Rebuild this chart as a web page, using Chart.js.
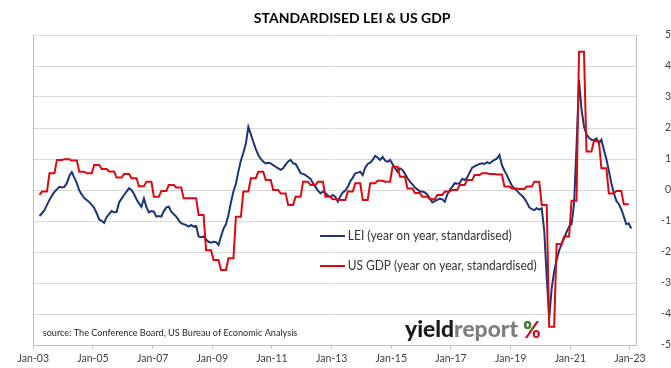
<!DOCTYPE html>
<html>
<head>
<meta charset="utf-8">
<script src="https://cdn.jsdelivr.net/npm/chart.js@4"></script>
<style>
  html, body { margin: 0; padding: 0; background: #fff; }
  canvas { display: block; }
</style>
</head>
<body>
<canvas id="leiChart" width="671" height="368"></canvas>
<script>
// month index 0 = Jan-03
const tickMonths = [0, 24, 48, 72, 96, 120, 144, 168, 192, 216, 240];
const tickLabels = ['Jan-03', 'Jan-05', 'Jan-07', 'Jan-09', 'Jan-11', 'Jan-13', 'Jan-15', 'Jan-17', 'Jan-19', 'Jan-21', 'Jan-23'];
const yTicks = [5, 4, 3, 2, 1, 0, -1, -2, -3, -4, -5];

// LEI, year on year, standardised: monthly, Mar-03 .. Jan-23
const leiStart = 2;
const lei = [
  -0.84, -0.75, -0.65, -0.48, -0.32, -0.18, -0.06, 0.02, 0.10, 0.08,                 // 2003 (Mar-Dec)
  0.10, 0.22, 0.45, 0.58, 0.40, 0.22, -0.02, -0.15, -0.26, -0.32, -0.39, -0.48,      // 2004
  -0.58, -0.75, -0.95, -1.00, -1.06, -0.87, -0.78, -0.68, -0.72, -0.71, -0.40, -0.28, // 2005
  -0.16, -0.05, 0.06, 0.00, -0.13, -0.30, -0.43, -0.54, -0.27, -0.55, -0.72, -0.68,  // 2006
  -0.70, -0.86, -0.84, -0.86, -0.68, -0.56, -0.54, -0.70, -0.78, -0.86, -0.98, -1.08, // 2007
  -1.10, -1.13, -1.18, -1.13, -1.18, -1.16, -1.50, -1.52, -1.50, -1.60, -1.67, -1.70, // 2008
  -1.67, -1.68, -1.77, -1.50, -1.25, -1.10, -0.80, -0.40, -0.05, 0.20, 0.60, 0.95,   // 2009
  1.20, 1.50, 2.04, 1.80, 1.55, 1.32, 1.13, 1.00, 0.91, 0.86, 0.88, 0.86,            // 2010
  0.80, 0.75, 0.70, 0.65, 0.70, 0.82, 0.92, 0.97, 0.86, 0.84, 0.70, 0.54,            // 2011
  0.52, 0.48, 0.42, 0.36, 0.22, 0.10, -0.02, -0.11, -0.05, -0.10, -0.18, -0.22,      // 2012
  -0.16, -0.22, -0.38, -0.20, -0.08, -0.02, 0.10, 0.28, 0.40, 0.54, 0.56, 0.59,      // 2013
  0.48, 0.72, 0.84, 0.88, 0.97, 1.10, 1.05, 0.97, 1.07, 0.95, 0.91, 0.97,            // 2014
  0.84, 0.70, 0.59, 0.70, 0.65, 0.52, 0.38, 0.27, 0.18, 0.08, 0.02, -0.05,           // 2015
  -0.05, -0.08, -0.15, -0.27, -0.40, -0.36, -0.32, -0.28, -0.30, -0.38, -0.15, 0.00, // 2016
  0.10, 0.22, 0.20, 0.22, 0.36, 0.32, 0.40, 0.56, 0.72, 0.76, 0.80, 0.84,            // 2017
  0.86, 0.84, 0.90, 0.86, 0.92, 0.97, 1.02, 1.13, 0.80, 0.62, 0.48, 0.30,            // 2018
  0.14, 0.05, -0.02, -0.11, -0.18, -0.27, -0.40, -0.56, -0.62, -0.65, -0.59, -0.63,  // 2019
  -0.59, -1.30, -2.80, -4.14, -3.17, -2.63, -2.25, -1.95, -1.75, -1.55, -1.35, -1.18, // 2020
  -1.10, -0.45, 1.40, 3.55, 2.60, 2.05, 1.80, 1.68, 1.62, 1.60, 1.66, 1.50,          // 2021
  1.62, 1.30, 1.00, 0.62, 0.22, -0.10, -0.35, -0.45, -0.62, -0.85, -1.10, -1.08,     // 2022
  -1.24                                                                              // 2023 (Jan)
];

// US GDP, year on year, standardised: quarterly, Q1-03 .. Q4-22
const gdpQuarterly = [
  -0.16, -0.05, 0.54, 0.97,   // 2003
  0.99, 0.95, 0.59, 0.54,     // 2004
  0.81, 0.68, 0.60, 0.40,     // 2005
  0.52, 0.38, 0.12, 0.27,     // 2006
  -0.22, -0.03, 0.16, 0.08,   // 2007
  -0.27, -0.27, -0.81, -1.94, // 2008
  -2.26, -2.58, -2.20, -0.86, // 2009
  -0.05, 0.38, 0.59, 0.32,    // 2010
  0.00, -0.11, -0.48, -0.22,  // 2011
  0.27, 0.16, 0.27, -0.22,    // 2012
  -0.30, -0.32, -0.05, 0.22,  // 2013
  -0.32, 0.22, 0.30, 0.27,    // 2014
  0.75, 0.43, 0.05, -0.10,    // 2015
  -0.22, -0.30, -0.16, -0.05, // 2016
  0.00, 0.16, 0.32, 0.48,     // 2017
  0.54, 0.52, 0.50, 0.11,     // 2018
  0.05, 0.03, 0.11, 0.27,     // 2019
  -0.48, -4.41, -1.74, -1.50, // 2020
  -0.35, 4.46, 1.24, 1.58,    // 2021
  0.70, -0.11, -0.03, -0.46   // 2022
];
const gdpStart = 2; // series shown from Mar-03

const leiLabel = 'LEI (year on year, standardised)';
const gdpLabel = 'US GDP (year on year, standardised)';
const leiColor = '#1c3578';
const gdpColor = '#e0080f';
const textColor = '#404040';

// each monthly point sits in the middle of its month
const leiPoints = lei.map((v, i) => ({ x: leiStart + i + 0.5, y: v }));
const gdpMonthly = gdpQuarterly.flatMap(v => [v, v, v]);
const gdpPoints = gdpMonthly.slice(gdpStart).map((v, i) => ({ x: gdpStart + i + 0.5, y: v }));

function fitText(ctx, text, x, y, width, font, color) {
  ctx.save();
  ctx.font = font;
  const w = ctx.measureText(text).width;
  ctx.translate(x, y);
  ctx.scale(width / w, 1);
  ctx.fillStyle = color;
  ctx.textAlign = 'left';
  ctx.textBaseline = 'middle';
  ctx.fillText(text, 0, 0);
  ctx.restore();
}

// legend inside the plot, source note and logo
const extras = {
  id: 'extras',
  afterDraw(chart) {
    const ctx = chart.ctx;
    const rows = [[leiLabel, leiColor, 235.5], [gdpLabel, gdpColor, 265.5]];
    rows.forEach(([label, color, y], i) => {
      ctx.save();
      ctx.strokeStyle = color;
      ctx.lineWidth = 2;
      ctx.beginPath();
      ctx.moveTo(320, y + 0.5);
      ctx.lineTo(345, y + 0.5);
      ctx.stroke();
      ctx.restore();
      fitText(ctx, label, 347.7, y, i === 0 ? 164 : 189, '12.5px Lato', '#333333');
    });

    fitText(ctx, 'source: The Conference Board, US Bureau of Economic Analysis',
      42.7, 333.3, 254.6, '8.6px Lato', '#262626');

    // yieldreport %
    ctx.save();
    ctx.font = '900 23px Lato';
    ctx.textBaseline = 'alphabetic';
    const w1 = ctx.measureText('yield').width;
    const w2 = ctx.measureText('report').width;
    const sx = 113 / (w1 + w2);
    ctx.translate(405, 337);
    ctx.scale(sx, 1);
    ctx.fillStyle = '#1a1a1a';
    ctx.fillText('yield', 0, 0);
    ctx.fillStyle = '#7f7f7f';
    ctx.fillText('report', w1, 0);
    ctx.restore();

    ctx.save();
    ctx.font = '900 22px Lato';
    const wp = ctx.measureText('%').width;
    ctx.translate(523.3, 338);
    ctx.scale(17.4 / wp, 1);
    ctx.fillStyle = '#d0101a';
    ctx.fillText('%', 0, 0);
    ctx.beginPath();
    ctx.rect(0, -20, wp * 0.55, 12.5);
    ctx.clip();
    ctx.fillStyle = '#2e8b3a';
    ctx.fillText('%', 0, 0);
    ctx.restore();
  }
};

const ctx = document.getElementById('leiChart').getContext('2d');
const chart = new Chart(ctx, {
  type: 'line',
  data: {
    datasets: [{
      label: leiLabel,
      data: leiPoints,
      borderColor: leiColor,
      borderWidth: 2,
      pointRadius: 0,
      tension: 0,
      order: 1
    }, {
      label: gdpLabel,
      data: gdpPoints,
      borderColor: gdpColor,
      borderWidth: 2,
      pointRadius: 0,
      tension: 0,
      order: 0
    }]
  },
  options: {
    responsive: false,
    animation: false,
    devicePixelRatio: 1,
    layout: { padding: { left: 33.3, right: 0, top: 0, bottom: 0 } },
    plugins: {
      legend: { display: false },
      tooltip: { enabled: false },
      title: {
        display: true,
        text: 'STANDARDISED LEI & US GDP',
        color: '#000000',
        font: { family: 'Lato', size: 14, weight: 'bold' },
        padding: { top: 10, bottom: 8.2 }
      }
    },
    scales: {
      x: {
        type: 'linear',
        min: 0,
        max: 242.7,
        afterBuildTicks: s => { s.ticks = tickMonths.map(v => ({ value: v })); },
        afterFit: s => { s.height = 23; },
        ticks: {
          autoSkip: false,
          maxRotation: 0,
          padding: 3,
          color: textColor,
          font: { family: 'Lato', size: 10.5 },
          callback: v => tickLabels[tickMonths.indexOf(v)]
        },
        grid: { drawOnChartArea: false, drawTicks: true, tickLength: 4, color: '#bfbfbf' },
        border: { display: true, color: '#bfbfbf' }
      },
      yl: {
        position: 'left',
        min: -5,
        max: 5,
        afterFit: s => { s.width = 0; },
        ticks: { display: false },
        grid: { drawOnChartArea: false, drawTicks: false },
        border: { display: true, color: '#bfbfbf' }
      },
      y: {
        position: 'right',
        min: -5,
        max: 5,
        afterBuildTicks: s => { s.ticks = yTicks.map(v => ({ value: v })); },
        afterFit: s => { s.width = 34.3; },
        ticks: {
          crossAlign: 'far',
          padding: 5,
          color: textColor,
          font: { family: 'Lato', size: 10.5 }
        },
        grid: { color: '#d9d9d9', drawTicks: false },
        border: { display: true, color: '#bfbfbf' }
      }
    }
  },
  plugins: [extras]
});
</script>
</body>
</html>
